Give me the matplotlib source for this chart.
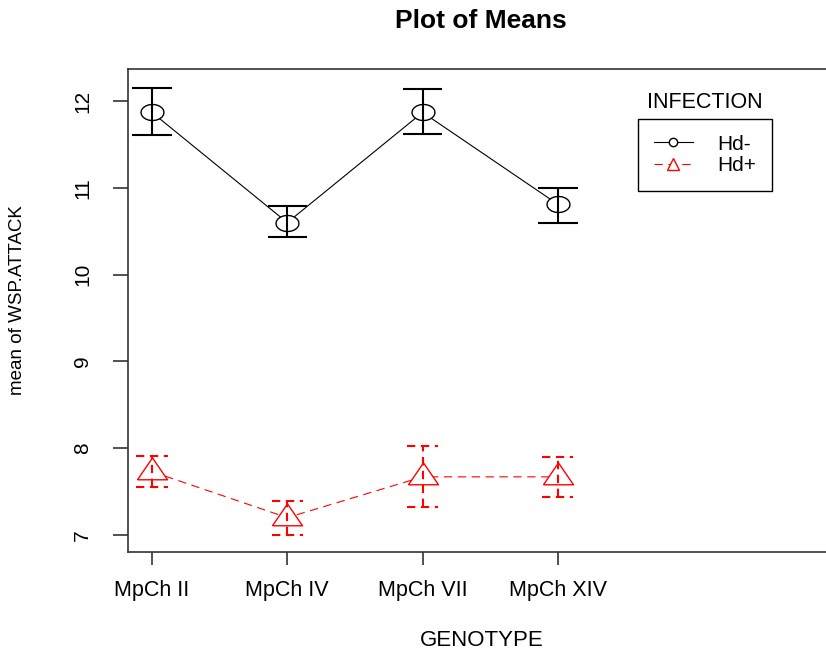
import math
import matplotlib
matplotlib.use("Agg")
import matplotlib.pyplot as plt
from matplotlib.lines import Line2D

plt.rcParams['font.family'] = ['Liberation Sans', 'DejaVu Sans']
plt.rcParams['lines.scale_dashes'] = False

# data
genotypes = ["MpCh II", "MpCh IV", "MpCh VII", "MpCh XIV"]
groups = ["Hd-", "Hd+"]
hd_minus_mean = [11.87, 10.60, 11.87, 10.81]
hd_minus_upper = [12.15, 10.79, 12.14, 11.00]
hd_minus_lower = [11.61, 10.43, 11.62, 10.60]
hd_plus_mean = [7.73, 7.20, 7.67, 7.67]
hd_plus_upper = [7.91, 7.39, 8.02, 7.90]
hd_plus_lower = [7.55, 7.00, 7.32, 7.44]
y_ticks = [7, 8, 9, 10, 11, 12]

# R's symbols look a bit squashed in the picture
ellipse = [(0.5 * math.cos(t / 20 * 2 * math.pi),
            0.35 * math.sin(t / 20 * 2 * math.pi)) for t in range(21)]
triangle = [(-0.5, -0.243), (0.5, -0.243), (0.0, 0.487), (-0.5, -0.243)]

fig = plt.figure(figsize=(8.26, 6.52), dpi=100)
ax = fig.add_axes([128 / 826, 100 / 652, 706 / 826, 483 / 652])

x = list(range(1, len(genotypes) + 1))
dash = (0, (6, 4))

series = [
    (hd_minus_mean, hd_minus_upper, hd_minus_lower, 'black', '-', ellipse, 16.6, 0.145),
    (hd_plus_mean, hd_plus_upper, hd_plus_lower, 'red', dash, triangle, 21.6, 0.115),
]

for mean, up, lo, col, ls, mk, ms, cap in series:
    ax.plot(x, mean, color=col, ls=ls, lw=0.8, zorder=2)
    ax.plot(x, mean, ls='none', marker=mk, ms=ms, mfc='white', mec=col,
            mew=1.0, zorder=3)
    ax.vlines(x, lo, up, color=col, linestyles=ls, lw=1.5, zorder=4)
    ax.hlines(up, [v - cap for v in x], [v + cap for v in x], color=col,
              linestyles=ls, lw=1.5, zorder=4)
    ax.hlines(lo, [v - cap for v in x], [v + cap for v in x], color=col,
              linestyles=ls, lw=1.5, zorder=4)

ax.set_xlim(0.823, 6.04)
ax.set_ylim(6.804, 12.37)
ax.set_xticks(x)
ax.set_xticklabels(genotypes, fontsize=15.5)
ax.set_yticks(y_ticks)
ax.set_yticklabels([str(v) for v in y_ticks], fontsize=15, rotation=90,
                   va='center')
ax.tick_params(axis='x', length=9, width=1.2, pad=11, color='#333333')
ax.tick_params(axis='y', length=11, width=1.2, pad=15, color='#333333')
for s in ['left', 'bottom', 'top']:
    ax.spines[s].set_linewidth(1.2)
    ax.spines[s].set_color('#333333')
ax.spines['right'].set_visible(False)

ax.set_ylabel("mean of WSP.ATTACK", fontsize=13.5)
ax.yaxis.set_label_coords((26 - 128) / 706, (552 - 300) / 483)
ax.set_xlabel("GENOTYPE", fontsize=16, va='center')
ax.xaxis.set_label_coords((482 - 128) / 706, -(640 - 552) / 483)

fig.text(481 / 826, 1 - 21 / 652, "Plot of Means", fontsize=19,
         fontweight='bold', ha='center', va='center')

# legend, title drawn above the box like R does
fig.text(705 / 826, 1 - 103 / 652, "INFECTION", fontsize=15.5,
         ha='center', va='center')
handles = [
    Line2D([], [], color='black', lw=0.8, marker='o', ms=6, mfc='white'),
    Line2D([], [], color='red', lw=0.8, ls=dash, marker='^', ms=8,
           mfc='white'),
]
leg = ax.legend(handles, groups, loc='upper left',
                bbox_to_anchor=(638 / 826, 1 - 119 / 652),
                bbox_transform=fig.transFigure, borderaxespad=0,
                fontsize=15, handlelength=1.9, handletextpad=1.15,
                borderpad=0.75, labelspacing=0.12, fancybox=False,
                framealpha=1)
leg.get_frame().set_edgecolor('black')
leg.get_frame().set_linewidth(1.0)

fig.savefig("out.png", dpi=100)
